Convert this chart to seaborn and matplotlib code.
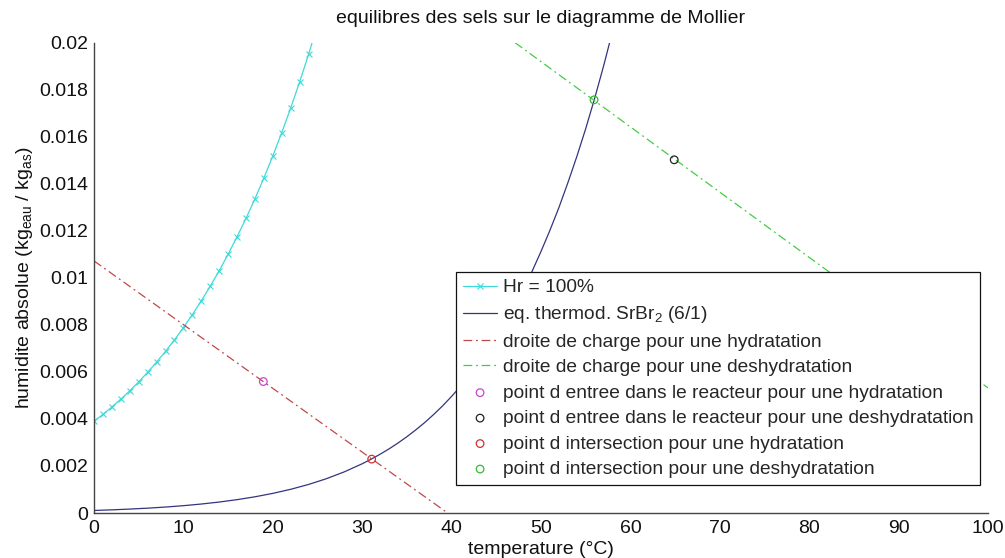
import matplotlib
matplotlib.use("Agg")
import matplotlib.pyplot as plt
import seaborn as sns

# ---- data ----
hr_temp = list(range(0, 26))
hr_hum = [0.003900, 0.004194, 0.004508, 0.004843, 0.005197, 0.005577, 0.005984,
          0.006417, 0.006877, 0.007363, 0.007883, 0.008435, 0.009022, 0.009642,
          0.010302, 0.011004, 0.011745, 0.012529, 0.013361, 0.014247, 0.015183,
          0.016174, 0.017222, 0.018328, 0.019504, 0.020744]

eq_temp = [0, 2, 4, 6, 8, 10, 12, 14, 16, 18, 20, 22, 24, 26, 28, 30,
           31, 32, 33, 34, 35, 36, 37, 38, 39, 40, 41, 42, 43, 44, 45, 46,
           47, 48, 49, 50, 51, 52, 53, 54, 55, 56, 57, 58]
eq_hum = [0.0001080, 0.0001342, 0.0001666, 0.0002057, 0.0002535, 0.0003110,
          0.0003812, 0.0004656, 0.0005670, 0.0006886, 0.0008344, 0.0010078,
          0.001214, 0.001459, 0.001750, 0.002094,
          0.002288, 0.002499, 0.002726, 0.002975, 0.003244, 0.003537, 0.003849,
          0.004192, 0.004558, 0.004959, 0.005386, 0.005847, 0.006346, 0.006890,
          0.007469, 0.008100, 0.008773, 0.009497, 0.010275, 0.011122, 0.012023,
          0.012985, 0.014038, 0.015150, 0.016343, 0.017630, 0.019007, 0.020480]

hyd_line_temp = [0.0, 39.56]
hyd_line_hum = [0.01072, 0.0]
deshyd_line_temp = [47.1, 100.0]
deshyd_line_hum = [0.0200, 0.00532]

entry_hyd = (18.94, 0.00559)
entry_deshyd = (64.9, 0.01502)
inter_hyd = (31.06, 0.00229)
inter_deshyd = (55.93, 0.01757)

x_ticks = [0, 10, 20, 30, 40, 50, 60, 70, 80, 90, 100]
y_ticks = [0, 0.002, 0.004, 0.006, 0.008, 0.01, 0.012, 0.014, 0.016, 0.018, 0.02]
y_ticklabels = ["0", "0.002", "0.004", "0.006", "0.008", "0.01", "0.012",
                "0.014", "0.016", "0.018", "0.02"]

labels = ["Hr = 100%",
          "eq. thermod. SrBr$_2$ (6/1)",
          "droite de charge pour une hydratation",
          "droite de charge pour une deshydratation",
          "point d entree dans le reacteur pour une hydratation",
          "point d entree dans le reacteur pour une deshydratation",
          "point d intersection pour une hydratation",
          "point d intersection pour une deshydratation"]

# ---- style ----
sns.set_theme(style="white")
plt.rcParams["font.family"] = ["Liberation Sans", "DejaVu Sans"]
plt.rcParams["mathtext.fontset"] = "custom"
plt.rcParams["mathtext.rm"] = "Liberation Sans"
plt.rcParams["mathtext.it"] = "Liberation Sans:italic"
plt.rcParams["mathtext.default"] = "regular"

FS = 14
fig = plt.figure(figsize=(10.05, 5.58), dpi=100)
ax = fig.add_axes([94 / 1005, 1 - 513 / 558, (988 - 94) / 1005, (513 - 42.7) / 558])

c_hr = "#3fd9d9"
c_eq = "#34347f"
c_red = "#c04848"
c_green = "#44cc44"
dashdot = (0, (7, 3, 1.5, 3))

sns.lineplot(x=hr_temp, y=hr_hum, ax=ax, color=c_hr, lw=0.9, marker="x",
             markersize=4, markeredgewidth=0.8, markeredgecolor=c_hr,
             sort=False, estimator=None)
sns.lineplot(x=eq_temp, y=eq_hum, ax=ax, color=c_eq, lw=0.9, sort=False, estimator=None)
sns.lineplot(x=hyd_line_temp, y=hyd_line_hum, ax=ax, color=c_red, lw=0.9,
             linestyle=dashdot, sort=False, estimator=None)
sns.lineplot(x=deshyd_line_temp, y=deshyd_line_hum, ax=ax, color=c_green, lw=0.9,
             linestyle=dashdot, sort=False, estimator=None)

pt_colors = ["#cc44cc", "#222222", "#cc3333", "#33bb33"]
for (px, py), col in zip([entry_hyd, entry_deshyd, inter_hyd, inter_deshyd], pt_colors):
    sns.scatterplot(x=[px], y=[py], ax=ax, marker="o", s=30, facecolors="none",
                    edgecolor=col, linewidth=0.9, zorder=5)

ax.set_xlim(0, 100)
ax.set_ylim(0, 0.02)
ax.set_xticks(x_ticks)
ax.set_xticklabels([str(t) for t in x_ticks])
ax.set_yticks(y_ticks)
ax.set_yticklabels(y_ticklabels)
ax.tick_params(direction="in", length=6, width=0.8, color="#333333",
               labelsize=FS, pad=4, colors="#111111")
ax.tick_params(axis="x", pad=5)
for side in ["top", "right"]:
    ax.spines[side].set_visible(False)
for side in ["left", "bottom"]:
    ax.spines[side].set_color("#444444")
    ax.spines[side].set_linewidth(1.0)

ax.set_title("equilibres des sels sur le diagramme de Mollier", fontsize=FS,
             color="#111111", pad=14)
ax.set_xlabel("temperature (°C)", fontsize=FS, color="#111111", labelpad=3)
ax.set_ylabel("humidite absolue (kg$_{eau}$ / kg$_{as}$)", fontsize=FS,
              color="#111111", labelpad=3)

handles = ax.get_lines()[:4] + list(ax.collections[:4])
leg = ax.legend(handles, labels, loc="lower right", bbox_to_anchor=(0.9915, 0.06),
                borderaxespad=0, fontsize=13.8, frameon=True, fancybox=False,
                edgecolor="#111111", handlelength=1.8, handletextpad=0.3,
                labelspacing=0.42, borderpad=0.35, framealpha=1)
leg.get_frame().set_linewidth(0.9)

fig.savefig("out.png", dpi=100)
